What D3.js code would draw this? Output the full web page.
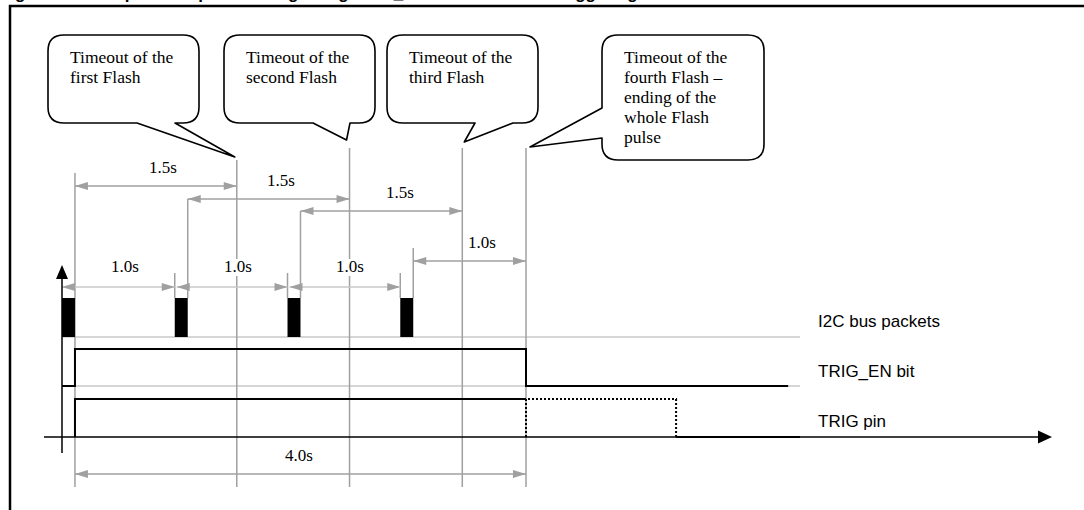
<!DOCTYPE html>
<html><head><meta charset="utf-8">
<script src="https://cdn.jsdelivr.net/npm/d3@7"></script>
<style>body{margin:0;background:#fff}svg{display:block}</style>
</head><body>
<svg id="c" width="1084" height="510"></svg>
<script>
// ---------------- data ----------------
const titleText = "Figure 12. Multiple flash pulse timing using TRIG_EN bit and I2C bus triggering";
const signalNames = ["I2C bus packets", "TRIG_EN bit", "TRIG pin"];
const packetStarts = [0, 1, 2, 3];          // s
const packetDuration = 0.115;               // s
const flashTimeouts = [1.55, 2.55, 3.55, 4.115]; // s
const packetGapLabels = ["1.0s", "1.0s", "1.0s"];
const flashLabels = ["1.5s", "1.5s", "1.5s"];
const lastGapLabel = "1.0s";
const totalLabel = "4.0s";
const trigEnSteps = [[0, 0], [0.115, 0], [0.115, 1], [4.115, 1], [4.115, 0], [6.44, 0]];
const trigPinSolid = [[0.115, 0], [0.115, 1], [4.115, 1]];
const trigPinDotted = [[4.115, 0], [4.115, 1], [5.446, 1], [5.446, 0]];
const trigPinLow = [[5.446, 0], [6.545, 0]];
const baselineEnd = 6.545;
const axisRange = [-0.16, 8.78];
const calloutTexts = [
  ["Timeout of the", "first Flash"],
  ["Timeout of the", "second Flash"],
  ["Timeout of the", "third Flash"],
  ["Timeout of the", "fourth Flash \u2013", "ending of the", "whole Flash", "pulse"]
];

// ---------------- layout ----------------
const svg = d3.select("#c");
const x = d3.scaleLinear().domain([0, 4.115]).range([62, 526]);
const GREY = "#a0a0a0", LIGHT = "#c8c8c8";
const serif = "'Liberation Serif','Times New Roman',serif";
const sans = "'Liberation Sans',Arial,sans-serif";

// lanes
const lane = {
  i2c:  {base: 337, top: 298},
  en:   {low: 386, high: 349},
  pin:  {low: 437, high: 399}
};
const yEn = d3.scaleLinear().domain([0, 1]).range([lane.en.low, lane.en.high]);
const yPin = d3.scaleLinear().domain([0, 1]).range([lane.pin.low, lane.pin.high]);

// title (cut off at top) and frame
svg.append("text").attr("x", 0).attr("y", -1).attr("font-family", sans)
  .attr("font-weight", "bold").attr("font-size", 17).text(titleText);
svg.append("path").attr("d", "M10,1000 L10,6 L1100,6").attr("fill", "none")
  .attr("stroke", "#000").attr("stroke-width", 2.5);

function arrowHead(g, xTip, y, dir, color) {
  const L = 13, W = 4;
  g.append("path").attr("d", `M${xTip},${y} L${xTip - dir * L},${y - W} L${xTip - dir * L},${y + W} Z`)
    .attr("fill", color);
}
function dimArrow(g, x1, x2, y, lineColor) {
  g.append("line").attr("x1", x1).attr("x2", x2).attr("y1", y).attr("y2", y)
    .attr("stroke", lineColor).attr("stroke-width", 1.3);
  arrowHead(g, x1, y, -1, GREY);
  arrowHead(g, x2, y, 1, GREY);
}
function vline(g, xv, y1, y2, color, w) {
  g.append("line").attr("x1", xv).attr("x2", xv).attr("y1", y1).attr("y2", y2)
    .attr("stroke", color || GREY).attr("stroke-width", w || 1.5);
}
function label(g, txt, cx, y, bg) {
  if (bg) {
    g.append("rect").attr("x", cx - 18).attr("y", y - 13).attr("width", 36).attr("height", 17).attr("fill", "#fff");
  }
  g.append("text").attr("x", cx).attr("y", y).attr("text-anchor", "middle")
    .attr("font-family", serif).attr("font-size", 17).attr("fill", "#000").text(txt);
}

const gGrid = svg.append("g");
// baselines
[lane.i2c.base, lane.en.low].forEach(yb => {
  gGrid.append("line").attr("x1", x(0)).attr("x2", x(baselineEnd)).attr("y1", yb).attr("y2", yb)
    .attr("stroke", LIGHT).attr("stroke-width", 1.5);
});

// vertical reference lines
const packetEnds = packetStarts.map(s => s + packetDuration);
const calloutTipY = [160, 148, 148, 148];
vline(gGrid, x(packetEnds[0]), 173, 487);
flashTimeouts.forEach((t, i) => vline(gGrid, x(t), calloutTipY[i], 487));
// packet end lines up to their dimension arrows
const flashArrowY = [186, 199, 211];
packetEnds.slice(1, 3).forEach((t, i) => vline(gGrid, x(t), flashArrowY[i + 1], lane.i2c.top));
vline(gGrid, x(packetEnds[3]), 248, lane.i2c.top);
packetStarts.slice(1).forEach(t => vline(gGrid, x(t), 273, lane.i2c.top));

// dimension arrows
const gDim = svg.append("g");
const flashLabelPos = [[163, 173], [281, 186], [400, 198]];
flashLabels.forEach((lab, i) => {
  dimArrow(gDim, x(packetEnds[i]), x(flashTimeouts[i]), flashArrowY[i], GREY);
  label(gDim, lab, flashLabelPos[i][0], flashLabelPos[i][1], false);
});
dimArrow(gDim, x(packetEnds[3]), x(flashTimeouts[3]), 261, GREY);
label(gDim, lastGapLabel, 482, 248, false);
packetGapLabels.forEach((lab, i) => {
  const a = x(packetStarts[i]), b = x(packetStarts[i + 1]);
  dimArrow(gDim, a + (i === 0 ? 0 : 2), b, 287, LIGHT);
  label(gDim, lab, [125, 238, 350][i], 272, i > 0);
});
dimArrow(gDim, x(packetEnds[0]), x(flashTimeouts[3]), 474, GREY);
label(gDim, totalLabel, 299, 461, false);

// packets
svg.append("g").selectAll("rect").data(packetStarts).join("rect")
  .attr("x", d => x(d)).attr("width", d => x(d + packetDuration) - x(d))
  .attr("y", lane.i2c.top).attr("height", lane.i2c.base - lane.i2c.top).attr("fill", "#000");

// signals
const line = d3.line();
svg.append("path").attr("d", line(trigEnSteps.map(d => [x(d[0]), yEn(d[1])])))
  .attr("fill", "none").attr("stroke", "#000").attr("stroke-width", 2);
svg.append("path").attr("d", line(trigPinSolid.map(d => [x(d[0]), yPin(d[1])])))
  .attr("fill", "none").attr("stroke", "#000").attr("stroke-width", 2);
svg.append("path").attr("d", line(trigPinDotted.map(d => [x(d[0]), yPin(d[1])])))
  .attr("fill", "none").attr("stroke", "#000").attr("stroke-width", 2).attr("stroke-dasharray", "2,2");

// axes
const gAx = svg.append("g");
gAx.append("line").attr("x1", x(axisRange[0])).attr("x2", x(axisRange[1]) - 12)
  .attr("y1", lane.pin.low).attr("y2", lane.pin.low).attr("stroke", "#000").attr("stroke-width", 1.5);
gAx.append("path").attr("d", line(trigPinLow.map(d => [x(d[0]), yPin(d[1])])))
  .attr("fill", "none").attr("stroke", "#000").attr("stroke-width", 2.2);
gAx.append("path").attr("d", `M${x(axisRange[1])},${lane.pin.low} L${x(axisRange[1]) - 14},${lane.pin.low - 6.5} L${x(axisRange[1]) - 14},${lane.pin.low + 6.5} Z`).attr("fill", "#000");
gAx.append("line").attr("x1", x(0)).attr("x2", x(0)).attr("y1", 276).attr("y2", 453)
  .attr("stroke", "#000").attr("stroke-width", 1.5);
gAx.append("path").attr("d", `M${x(0)},265 L${x(0) - 6},279 L${x(0) + 6},279 Z`).attr("fill", "#000");

// signal names
[327, 377, 427].forEach((yy, i) => {
  svg.append("text").attr("x", 818).attr("y", yy).attr("font-family", sans).attr("font-size", 17)
    .attr("fill", "#000").text(signalNames[i]);
});

// callouts
const r = 16;
function bottomTailPath(x0, y0, x1, y1, b1, b2, tx, ty) {
  return `M${x0 + r},${y0} L${x1 - r},${y0} Q${x1},${y0} ${x1},${y0 + r} L${x1},${y1 - r} Q${x1},${y1} ${x1 - r},${y1}` +
    ` L${b2},${y1} L${tx},${ty} L${b1},${y1} L${x0 + r},${y1} Q${x0},${y1} ${x0},${y1 - r} L${x0},${y0 + r} Q${x0},${y0} ${x0 + r},${y0} Z`;
}
function leftTailPath(x0, y0, x1, y1, b1, b2, tx, ty) {
  return `M${x0 + r},${y0} L${x1 - r},${y0} Q${x1},${y0} ${x1},${y0 + r} L${x1},${y1 - r} Q${x1},${y1} ${x1 - r},${y1}` +
    ` L${x0 + r},${y1} Q${x0},${y1} ${x0},${y1 - r} L${x0},${b2} L${tx},${ty} L${x0},${b1} L${x0},${y0 + r} Q${x0},${y0} ${x0 + r},${y0} Z`;
}
const boxes = [
  {x0: 48, x1: 199, y0: 35, y1: 123, b1: 137, b2: 175, tip: [x(flashTimeouts[0]) - 2, 157]},
  {x0: 224, x1: 375, y0: 35, y1: 123, b1: 313, b2: 350, tip: [x(flashTimeouts[1]) - 3, 140]},
  {x0: 387, x1: 538, y0: 35, y1: 123, b1: 465 + 10, b2: 513, tip: [x(flashTimeouts[2]) + 2, 142]},
  {x0: 602, x1: 764, y0: 35, y1: 160, b1: 108, b2: 138, tip: [x(flashTimeouts[3]) + 4, 147], left: true}
];
const gC = svg.append("g");
boxes.forEach((b, i) => {
  const d = b.left ? leftTailPath(b.x0, b.y0, b.x1, b.y1, b.b1, b.b2, b.tip[0], b.tip[1])
                   : bottomTailPath(b.x0, b.y0, b.x1, b.y1, b.b1, b.b2, b.tip[0], b.tip[1]);
  gC.append("path").attr("d", d).attr("fill", "#fff").attr("stroke", "#000").attr("stroke-width", 1.6)
    .attr("stroke-linejoin", "round");
  const t = gC.append("text").attr("font-family", serif).attr("font-size", 17.5).attr("fill", "#000");
  calloutTexts[i].forEach((s, j) => {
    t.append("tspan").attr("x", b.x0 + 22).attr("y", 63 + j * 20).text(s);
  });
});
</script>
</body></html>
